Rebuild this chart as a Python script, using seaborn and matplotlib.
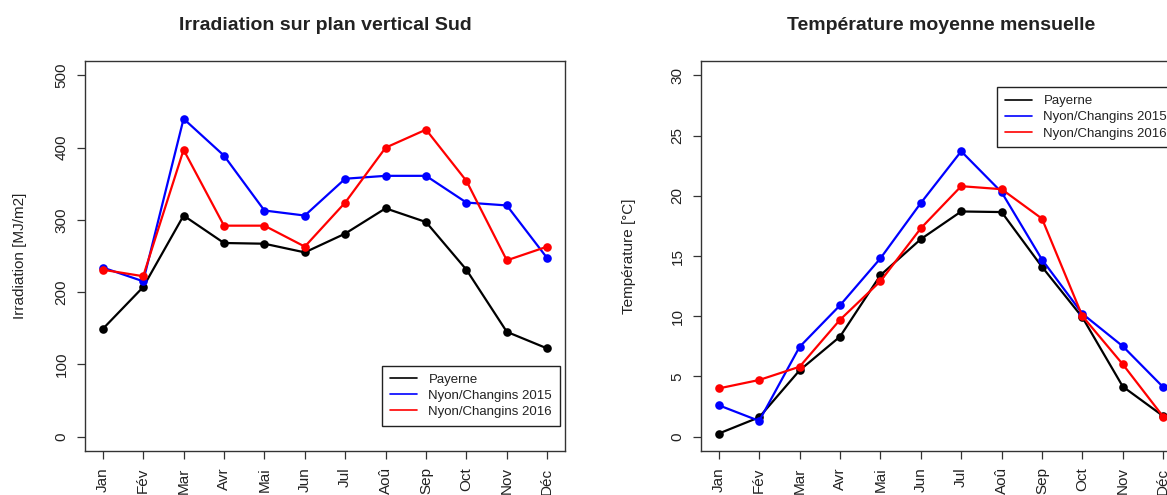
import numpy as np
import pandas as pd
import matplotlib
matplotlib.use("Agg")
import matplotlib.pyplot as plt
from matplotlib.lines import Line2D
import seaborn as sns

months = ["Jan", "Fév", "Mar", "Avr", "Mai", "Jun", "Jul", "Aoû", "Sep", "Oct", "Nov", "Déc"]
series_names = ["Payerne", "Nyon/Changins 2015", "Nyon/Changins 2016"]
series_colors = ["#000000", "#0000FF", "#FF0000"]

irr_payerne = [149, 207, 306, 268, 267, 255, 281, 316, 297, 231, 145, 122]
irr_nyon2015 = [234, 215, 440, 389, 313, 306, 357, 361, 361, 324, 320, 247]
irr_nyon2016 = [231, 222, 397, 292, 292, 263, 324, 400, 425, 354, 244, 263]

temp_payerne = [0.25, 1.6, 5.5, 8.3, 13.4, 16.4, 18.7, 18.65, 14.1, 9.9, 4.15, 1.7]
temp_nyon2015 = [2.6, 1.3, 7.45, 10.9, 14.8, 19.4, 23.7, 20.3, 14.7, 10.2, 7.5, 4.1]
temp_nyon2016 = [4.0, 4.7, 5.8, 9.7, 12.9, 17.3, 20.8, 20.55, 18.1, 10.0, 6.0, 1.65]

irr_ticks = [0, 100, 200, 300, 400, 500]
temp_ticks = [0, 5, 10, 15, 20, 25, 30]

sns.set_style("ticks")
plt.rcParams["font.family"] = ["Liberation Sans", "DejaVu Sans"]

TXT = "#222222"
W, H = 1167, 495
fig = plt.figure(figsize=(W / 100, H / 100), dpi=100)

def make_df(values_list):
    rows = []
    for name, vals in zip(series_names, values_list):
        for i, v in enumerate(vals):
            rows.append({"mois": i + 1, "valeur": v, "serie": name})
    return pd.DataFrame(rows)

def draw_panel(ax, df, ticks, ymax, title, ylabel, legend_loc, anchor, ylabel_x):
    sns.lineplot(data=df, x="mois", y="valeur", hue="serie", hue_order=series_names,
                 palette=dict(zip(series_names, series_colors)), marker="o",
                 markersize=6.2, markeredgewidth=0, linewidth=1.6, sort=False,
                 legend=False, ax=ax, errorbar=None)
    ax.set_xlim(1 - 0.44, 12 + 0.44)
    ax.set_ylim(-0.04 * ymax, ymax * 1.04)
    ax.set_xticks(np.arange(1, 13))
    ax.set_xticklabels(months, rotation=90)
    ax.set_yticks(ticks)
    ax.set_yticklabels([str(t) for t in ticks], rotation=90, va="center")
    ax.tick_params(axis="both", length=5.8, width=0.9, color="#333333",
                   labelsize=11, labelcolor=TXT, pad=6)
    for sp in ax.spines.values():
        sp.set_visible(True)
        sp.set_color("#333333")
        sp.set_linewidth(1.0)
    ax.set_xlabel("")
    ax.set_ylabel(ylabel, fontsize=11, color=TXT)
    ax.yaxis.set_label_coords(ylabel_x, 0.5)
    ax.set_title(title, fontsize=14, fontweight="bold", color=TXT, pad=22)
    handles = [Line2D([0], [0], color=c, lw=1.2) for c in series_colors]
    leg = ax.legend(handles, series_names, loc=legend_loc, bbox_to_anchor=anchor,
                    borderaxespad=0, fontsize=9.5, frameon=True, fancybox=False,
                    framealpha=1, edgecolor="#222222", handlelength=2.0,
                    handletextpad=0.9, labelspacing=0.3, borderpad=0.6)
    leg.get_frame().set_linewidth(1.0)
    for t in leg.get_texts():
        t.set_color(TXT)

ax_w = 480 / W
ax_h = 390 / H
ax_b = (H - 451) / H

ax1 = fig.add_axes([85 / W, ax_b, ax_w, ax_h])
draw_panel(ax1, make_df([irr_payerne, irr_nyon2015, irr_nyon2016]), irr_ticks, 500,
           "Irradiation sur plan vertical Sud", "Irradiation [MJ/m2]",
           "lower right", (1 - 5 / 480, 25 / 390), -0.12)

ax2 = fig.add_axes([701 / W, ax_b, ax_w, ax_h])
draw_panel(ax2, make_df([temp_payerne, temp_nyon2015, temp_nyon2016]), temp_ticks, 30,
           "Température moyenne mensuelle", "Température [°C]",
           "upper right", (1 - 6 / 480, 1 - 26 / 390), -0.135)

fig.savefig("out.png", dpi=100)
